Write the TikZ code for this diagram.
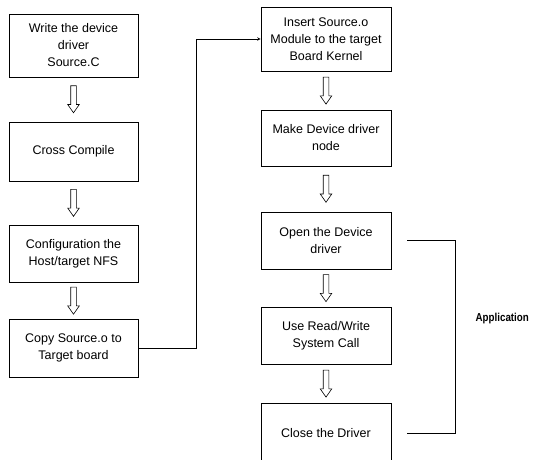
\documentclass[tikz,border=0pt]{standalone}
\usepackage{fontspec}
\setmainfont{Liberation Sans}
\newfontfamily\appfont[FakeStretch=0.85]{Liberation Sans}
\usetikzlibrary{shapes.arrows}

\begin{document}
\begin{tikzpicture}[x=1pt, y=-1pt, >=stealth, line width=0.6pt]
	\tikzset{passo/.style={rectangle, draw, minimum width=129pt, align=center, inner sep=2pt, font=\fontsize{12.5}{17}\selectfont}}
	\tikzset{freccia/.style={single arrow, draw, rotate=-90, minimum height=27pt, minimum width=0pt, single arrow head extend=3pt, single arrow tip angle=70, inner xsep=0pt, inner ysep=2.5pt}}
	\useasboundingbox (0,0) rectangle (546,459);
	
	% colonna sinistra
	\node[passo, minimum height=63pt] (scrivi) at (73.5,45.5) {Write the device\\driver\\Source.C};
	\node[passo, minimum height=59pt] (compila) at (73.5,151.5) {Cross Compile};
	\node[passo, minimum height=57pt] (config) at (73.5,253.5) {Configuration the\\Host/target NFS};
	\node[passo, minimum height=58pt] (copia) at (73.5,348) {Copy Source.o to\\Target board};
	
	% colonna destra
	\node[passo, minimum height=64pt, minimum width=130pt] (inserisci) at (326,39) {Insert Source.o\\Module to the target\\Board Kernel};
	\node[passo, minimum height=56pt, minimum width=130pt] (nodo) at (326,138) {Make Device driver\\node};
	\node[passo, minimum height=57pt, minimum width=130pt] (apri) at (326,240.5) {Open the Device\\driver};
	\node[passo, minimum height=57pt, minimum width=130pt] (usa) at (326,335.5) {Use Read/Write\\System Call};
	\node[passo, minimum height=60pt, minimum width=130pt] (chiudi) at (326,433) {Close the Driver};
	
	\path (scrivi.south) -- node[freccia, pos=0.45] {} (compila.north);
	\path (compila.south) -- node[freccia, pos=0.45] {} (config.north);
	\path (config.south) -- node[freccia, pos=0.45] {} (copia.north);
	\path (inserisci.south) -- node[freccia, pos=0.45] {} (nodo.north);
	\path (nodo.south) -- node[freccia, pos=0.45] {} (apri.north);
	\path (apri.south) -- node[freccia, pos=0.45] {} (usa.north);
	\path (usa.south) -- node[freccia, pos=0.45] {} (chiudi.north);
	
	\draw[->] (copia.east) -- ++(58,0) |- (inserisci.west);
	
	\draw ([xshift=16pt]apri.east) -- ++(48,0) |- ([xshift=16pt]chiudi.east);
	\node[anchor=west, font=\appfont\fontsize{11.5}{13}\selectfont\bfseries] (app) at (472,319) {Application};
\end{tikzpicture}
\end{document}
